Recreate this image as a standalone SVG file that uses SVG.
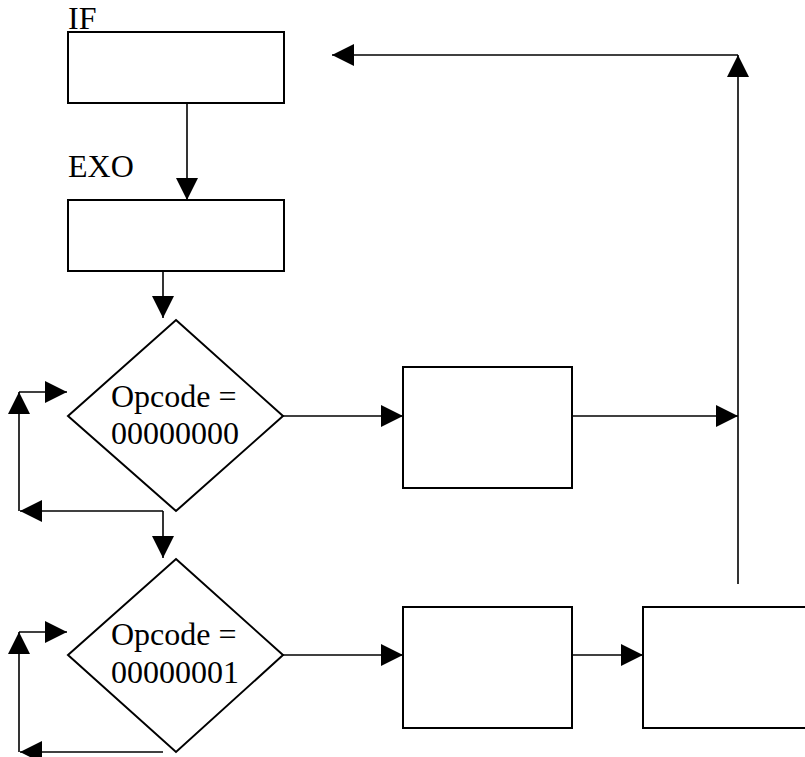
<svg xmlns="http://www.w3.org/2000/svg" width="805" height="757" viewBox="0 0 805 757">
  <style>
    .box { fill: #fff; stroke: #000; stroke-width: 2; }
    .line { fill: none; stroke: #000; stroke-width: 1.6; }
    .lbl { font-family: "Liberation Serif", "Times New Roman", serif; font-size: 32px; fill: #000; }
  </style>
  <defs>
    <marker id="arrow" markerUnits="userSpaceOnUse" markerWidth="22" markerHeight="22" viewBox="0 0 20 20" refX="20" refY="10" orient="auto">
      <path d="M0,0 L20,10 L0,20 Z" fill="#000"/>
    </marker>
  </defs>
  <rect width="805" height="757" fill="#fff"/>

  <g id="if-stage">
    <rect class="box" x="68" y="32" width="216" height="71"/>
    <text class="lbl" x="68" y="29">IF</text>
  </g>

  <g id="exo-stage">
    <rect class="box" x="68" y="200" width="216" height="71"/>
    <text class="lbl" x="68" y="177">EXO</text>
  </g>

  <g id="decision-0">
    <polygon class="box" points="176,320 283,416 176,511 68,416"/>
    <text class="lbl" x="111" y="407">Opcode =</text>
    <text class="lbl" x="111" y="444">00000000</text>
  </g>

  <g id="decision-1">
    <polygon class="box" points="176,559 283,655 176,752 68,655"/>
    <text class="lbl" x="111" y="645">Opcode =</text>
    <text class="lbl" x="111" y="683">00000001</text>
  </g>

  <g id="op0-unit">
    <rect class="box" x="403" y="367" width="169" height="121"/>
  </g>

  <g id="op1-unit">
    <rect class="box" x="403" y="607" width="169" height="121"/>
  </g>

  <g id="op1-next">
    <rect class="box" x="643" y="607" width="200" height="121"/>
  </g>

  <g id="connectors">
    <line class="line" x1="187" y1="103" x2="187" y2="200" marker-end="url(#arrow)"/>
    <line class="line" x1="163" y1="271" x2="163" y2="318" marker-end="url(#arrow)"/>

    <!-- loop around first decision -->
    <line class="line" x1="163" y1="511" x2="20" y2="511" marker-end="url(#arrow)"/>
    <line class="line" x1="19" y1="511" x2="19" y2="392" marker-end="url(#arrow)"/>
    <line class="line" x1="19" y1="392" x2="67" y2="392" marker-end="url(#arrow)"/>
    <line class="line" x1="163" y1="511" x2="163" y2="558" marker-end="url(#arrow)"/>

    <!-- loop around second decision -->
    <line class="line" x1="163" y1="752" x2="20" y2="752" marker-end="url(#arrow)"/>
    <line class="line" x1="19" y1="752" x2="19" y2="632" marker-end="url(#arrow)"/>
    <line class="line" x1="19" y1="632" x2="67" y2="632" marker-end="url(#arrow)"/>

    <line class="line" x1="283" y1="416" x2="403" y2="416" marker-end="url(#arrow)"/>
    <line class="line" x1="572" y1="416" x2="738" y2="416" marker-end="url(#arrow)"/>
    <line class="line" x1="738" y1="584" x2="738" y2="55" marker-end="url(#arrow)"/>
    <line class="line" x1="738" y1="55" x2="332" y2="55" marker-end="url(#arrow)"/>

    <line class="line" x1="283" y1="655" x2="403" y2="655" marker-end="url(#arrow)"/>
    <line class="line" x1="572" y1="655" x2="643" y2="655" marker-end="url(#arrow)"/>
  </g>
</svg>
